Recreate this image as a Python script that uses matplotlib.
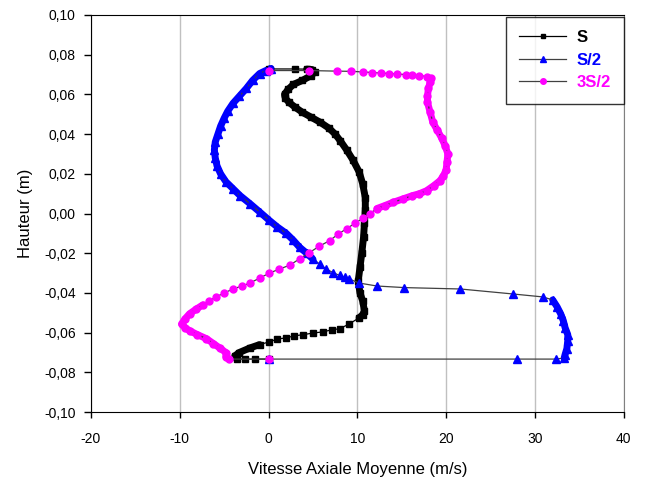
import matplotlib
matplotlib.use("Agg")
import matplotlib.pyplot as plt
from matplotlib.ticker import FuncFormatter

plt.rcParams['font.family'] = ['Liberation Sans', 'DejaVu Sans']
plt.rcParams['axes.unicode_minus'] = False

# S (black, squares) - from top wall to bottom wall
s_x = [0.0, 3.0, 4.3, 4.9, 5.2, 4.8, 3.8, 2.8, 2.2, 1.8, 1.9, 2.3, 3.0, 3.8, 4.8, 5.8,
       6.8, 7.5, 8.1, 8.8, 9.5, 10.2, 10.6, 10.9, 10.9, 10.8, 10.7, 10.5, 10.3, 10.1,
       10.3, 10.6, 10.8, 10.6, 10.2,
       9.1, 8.0, 7.1, 6.1, 5.0, 3.9, 2.9, 2.0, 1.0, 0.1, -1.0,
       -2.1, -3.3, -3.8, -3.6, -2.7, -1.5, 0.0]
s_y = [0.0728, 0.0728, 0.0727, 0.0725, 0.0712, 0.0695, 0.0670, 0.0650, 0.0625, 0.0600,
       0.0580, 0.0560, 0.0535, 0.0510, 0.0485, 0.0460, 0.0430, 0.0400, 0.0365, 0.0320,
       0.0270, 0.0210, 0.0150, 0.0080, 0.0020, -0.0050, -0.0120, -0.0200, -0.0270,
       -0.0340, -0.0400, -0.0440, -0.0490, -0.0510, -0.0525,
       -0.0556, -0.0580, -0.0586, -0.0596, -0.0602, -0.0610, -0.0616, -0.0626, -0.0632,
       -0.0646, -0.0660, -0.0677, -0.0700, -0.0717, -0.0733, -0.0733, -0.0733, -0.0733]

# S/2 (blue, triangles)
s2_x = [0.0, 0.3, -0.3, -1.0, -1.8, -2.5, -3.3, -4.0, -4.6, -5.0, -5.4, -5.7, -6.0, -6.1,
        -6.0, -5.8, -5.4, -4.8, -4.0, -3.2, -2.1, -1.0, 0.1, 1.0, 2.0, 2.8, 3.5, 4.3, 5.0,
        5.8, 6.5, 7.3, 8.0, 8.6, 9.1, 10.2, 12.2, 15.3, 21.6, 27.5, 30.9, 32.0, 32.5,
        32.9, 33.2, 33.4, 33.7, 33.7, 33.6, 33.4, 33.3, 32.4, 28.0, 0.0]
s2_y = [0.0728, 0.0730, 0.0720, 0.0705, 0.0670, 0.0630, 0.0590, 0.0555, 0.0515, 0.0480,
        0.0440, 0.0400, 0.0360, 0.0320, 0.0280, 0.0240, 0.0200, 0.0160, 0.0125, 0.0090,
        0.0050, 0.0008, -0.0035, -0.0068, -0.0100, -0.0135, -0.0170, -0.0200, -0.0230,
        -0.0255, -0.0280, -0.0298, -0.0312, -0.0322, -0.0330, -0.0350, -0.0365, -0.0373,
        -0.0380, -0.0405, -0.0420, -0.0435, -0.0470, -0.0505, -0.0540, -0.0575, -0.0610,
        -0.0640, -0.0680, -0.0710, -0.0727, -0.0733, -0.0733, -0.0733]

# 3S/2 (magenta, circles)
s32_x = [0.0, 4.6, 7.7, 9.3, 10.6, 11.7, 12.7, 13.6, 14.5, 15.5, 16.2, 17.0, 17.8, 18.3,
         18.2, 18.0, 17.9, 17.9, 18.2, 18.5, 19.0, 19.5, 19.9, 20.2, 20.1, 20.0, 19.7,
         19.3, 18.6, 17.8, 17.0, 16.2, 15.1, 14.0, 13.1, 12.2, 11.4, 10.6, 9.7, 8.8, 7.8,
         6.9, 5.7, 4.6, 3.5, 2.4, 1.2, 0.1, -1.0, -2.1, -3.0, -4.0, -5.0, -5.9, -6.7, -7.4,
         -8.2, -8.9, -9.4, -9.8, -9.4, -8.9, -8.0, -7.0, -6.2, -5.5, -4.8, -4.8, -4.5, 0.0]
s32_y = [0.0720, 0.0720, 0.0717, 0.0716, 0.0713, 0.0710, 0.0707, 0.0705, 0.0702, 0.0700,
         0.0697, 0.0695, 0.0690, 0.0680, 0.0660, 0.0630, 0.0590, 0.0560, 0.0510, 0.0460,
         0.0420, 0.0380, 0.0340, 0.0300, 0.0260, 0.0220, 0.0190, 0.0165, 0.0140, 0.0115,
         0.0100, 0.0090, 0.0073, 0.0056, 0.0040, 0.0025, 0.0000, -0.0025, -0.0050, -0.0076,
         -0.0105, -0.0136, -0.0165, -0.0197, -0.0228, -0.0260, -0.0280, -0.0300, -0.0325,
         -0.0350, -0.0365, -0.0380, -0.0400, -0.0420, -0.0440, -0.0460, -0.0483, -0.0505,
         -0.0530, -0.0556, -0.0575, -0.0590, -0.0610, -0.0630, -0.0655, -0.0677, -0.0700,
         -0.0720, -0.0733, -0.0733]

x_ticks = [-20, -10, 0, 10, 20, 30, 40]
y_ticks = [-0.10, -0.08, -0.06, -0.04, -0.02, 0.00, 0.02, 0.04, 0.06, 0.08, 0.10]

fig = plt.figure(figsize=(6.45, 4.82), dpi=100)
ax = fig.add_axes([0.141, 0.145, 0.826, 0.824])

# thick bands where the markers are packed densely
bands = [
    (s_x, s_y, "black", [(2, 35), (45, 50)]),
    (s2_x, s2_y, "blue", [(1, 29), (41, 51)]),
    (s32_x, s32_y, "magenta", [(13, 36), (55, 69)]),
]
for xs, ys, c, segs in bands:
    for a, b in segs:
        ax.plot(xs[a:b], ys[a:b], color=c, lw=5, solid_capstyle="round",
                solid_joinstyle="round", zorder=2)

ax.plot(s_x, s_y, color="black", lw=0.9, marker="s", ms=4, mfc="black", mec="black",
        label="S", zorder=3)
ax.plot(s2_x, s2_y, color="#404040", lw=0.9, marker="^", ms=5.5, mfc="blue", mec="blue",
        label="S/2", zorder=3)
ax.plot(s32_x, s32_y, color="#404040", lw=0.9, marker="o", ms=5, mfc="magenta",
        mec="magenta", label="3S/2", zorder=3)

ax.set_xlim(-20, 40)
ax.set_ylim(-0.10, 0.10)
ax.set_xticks(x_ticks)
ax.set_yticks(y_ticks)
ax.yaxis.set_major_formatter(FuncFormatter(lambda v, p: f"{v:.2f}".replace(".", ",").replace("-0,00", "0,00")))
ax.xaxis.grid(True, color="#c0c0c0", lw=1)
ax.set_axisbelow(True)
ax.tick_params(axis="both", direction="out", length=4, width=1, labelsize=10)
ax.tick_params(axis="x", pad=10)
ax.tick_params(axis="y", length=5, pad=6)
for side in ("left", "bottom", "top"):
    ax.spines[side].set_color("black")
ax.spines["right"].set_color("#808080")

ax.set_xlabel("Vitesse Axiale Moyenne (m/s)", fontsize=12, labelpad=12)
ax.set_ylabel("Hauteur (m)", fontsize=12, labelpad=8)

leg = ax.legend(loc="upper right", bbox_to_anchor=(1.0, 0.995), frameon=True,
                fancybox=False, edgecolor="black", prop={"weight": "bold", "size": 12},
                handlelength=2.8, handletextpad=0.6, borderpad=0.8, labelspacing=0.45,
                markerscale=0.8, borderaxespad=0.0)
leg.get_frame().set_linewidth(1)
for t, c in zip(leg.get_texts(), ["black", "blue", "magenta"]):
    t.set_color(c)

fig.savefig("out.png", dpi=100)
